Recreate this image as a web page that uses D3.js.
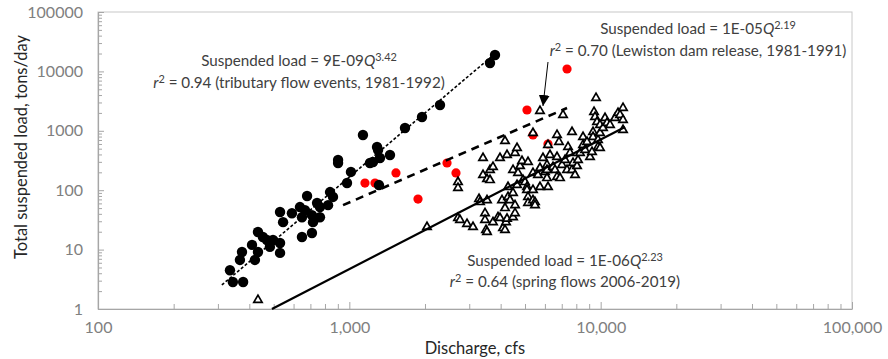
<!DOCTYPE html>
<html><head><meta charset="utf-8">
<script src="https://cdn.jsdelivr.net/npm/d3@7"></script>
<style>
body{margin:0;background:#fff}
svg{display:block}
text{font-family:Lato,"Open Sans",sans-serif}
</style>
</head><body>
<svg id="c" width="888" height="359"></svg>
<script>
// ---------- data ----------
const xTickValues = [100, 1000, 10000, 100000];
const xTickLabels = ["100", "1,000", "10,000", "100,000"];
const yTickValues = [1, 10, 100, 1000, 10000, 100000];
const yTickLabels = ["1", "10", "100", "1000", "10000", "100000"];

// tributary flow events 1981-1992 (black circles)
const tribQ = [335,344,378,367,374,421,410,433,433,453,470,483,497,530,530,530,545,591,636,648,666,648,679,710,710,717,744,764,764,823,838,861,902,902,979,1015,1133,1208,1242,1289,1301,1324,1312,1451,1665,1946,2295,3628,3798];
const tribL = [4.5,2.85,2.85,6.7,9.1,6.7,12,9.1,19.8,16.3,14.5,11.1,14.5,12.9,8.8,43,29,41,52,35,46,16.3,80,38,19,29,61,52,35,56,93,77,322,287,132,203,850,287,298,534,475,348,122,391,1115,1708,2719,13850,18890];

// Lewiston dam release 1981-1991 (red circles)
const lewQ = [1154,1265,1533,1876,2447,2657,5092,5379,6172,7348];
const lewL = [132,132,195,71,287,195,2239,849,600,10970];

// spring flows 2006-2019 (open triangles)
const springQ = [433,2037,2706,2706,2706,2756,2939,3105,3281,3311,3403,3403,3466,3466,3498,3530,3530,3530,3628,3628,3729,3729,3904,3976,3976,4050,4087,4163,4163,4163,4201,4240,4240,4279,4279,4358,4480,4480,4480,4563,4563,4563,4647,4647,4690,4777,4864,4909,5000,5092,5092,5139,5139,5139,5379,5379,5379,5379,5479,5479,5630,5735,5735,5735,5895,6004,6115,6115,6115,6172,6172,6286,6462,6581,6704,6704,6704,6828,6890,7018,7083,7213,7348,7416,7551,7691,7691,7762,7906,8053,8126,8277,8507,8507,8665,8826,9071,9239,9324,9324,9410,9497,9583,9670,9759,9759,9940,9940,9940,10216,10406,10598,10894,11404,11722,11940,12272,12272,12272];
const springL = [1.42,24,137,109,34,31.5,27,24,71,63,348,180,41,31.5,21.4,68,19.8,154,219,148,246,29,35,348,34,68,23,673,50,21.4,29,391,33,113,77,68,219,90,35,423,56,41,513,122,195,255,310,148,137,113,101,298,77,61,101,68,195,918,63,56,180,2154,236,113,348,203,266,219,160,577,113,391,246,219,850,362,167,648,160,266,1845,322,219,534,423,954,219,287,180,255,322,423,786,577,475,648,362,440,954,786,2073,1708,3566,1406,700,534,1252,918,513,1115,1642,1353,1252,1642,1994,1845,2420,1520,1031];

// fitted lines (end points)
const tribFitQ = [311, 3868];   const tribFitL = [2.54, 21210];
const lewFitQ = [944, 7348];    const lewFitL = [56, 2420];
const springFitQ = [492, 12498]; const springFitL = [1, 1159];

// arrow pointing at the Lewiston fit
const arrowQ = [6172, 5895];    const arrowL = [14390, 2615];

// ---------- layout ----------
const svg = d3.select("#c");
const padL = 98, padR = 852, padT = 12, padB = 309;
const x = d3.scaleLog().domain([100, 100000]).range([padL, padR]);
const y = d3.scaleLog().domain([1, 100000]).range([padB, padT]);

const zip = (a, b) => a.map((v, i) => [v, b[i]]);

// plot frame
svg.append("rect").attr("x", padL).attr("y", padT).attr("width", padR - padL).attr("height", padB - padT)
  .attr("fill", "none").attr("stroke", "#c8c8c8").attr("stroke-width", 1);

// minor ticks lists
const minorX = [], minorY = [];
for (let d = 100; d < 100000; d *= 10) for (let k = 1; k < 10; k++) minorX.push(d * k);
minorX.push(100000);
for (let d = 1; d < 100000; d *= 10) for (let k = 1; k < 10; k++) minorY.push(d * k);
minorY.push(100000);

const fmtX = v => { const i = xTickValues.indexOf(v); return i >= 0 ? xTickLabels[i] : ""; };
const fmtY = v => { const i = yTickValues.indexOf(v); return i >= 0 ? yTickLabels[i] : ""; };

const gx = svg.append("g").attr("transform", `translate(0,${padB})`)
  .call(d3.axisBottom(x).tickValues(minorX).tickFormat(fmtX).tickSizeInner(-5).tickSizeOuter(0).tickPadding(13));
const gy = svg.append("g").attr("transform", `translate(${padL},0)`)
  .call(d3.axisLeft(y).tickValues(minorY).tickFormat(fmtY).tickSizeInner(-4).tickSizeOuter(0).tickPadding(15));
[gx, gy].forEach(g => {
  g.select(".domain").attr("stroke", "#a6a6a6").attr("stroke-width", 1.2);
  g.selectAll(".tick line").attr("stroke", "#a6a6a6");
  g.selectAll(".tick text").attr("fill", "#808080").attr("font-size", 16).style("font-family", "Lato");
});
gy.selectAll(".tick").filter(d => yTickValues.includes(d)).select("line").attr("x2", 6);
gx.selectAll(".tick").filter(d => xTickValues.includes(d)).select("line").attr("y2", -7);

// axis titles
svg.append("text").attr("x", (padL + padR) / 2).attr("y", 354).attr("text-anchor", "middle")
  .attr("fill", "#262626").attr("font-size", 16.5).text("Discharge, cfs");
svg.append("text").attr("transform", "translate(27,147) rotate(-90)").attr("text-anchor", "middle")
  .attr("fill", "#262626").attr("font-size", 16.5).text("Total suspended load, tons/day");

// ---------- marks ----------
const plot = svg.append("g");

plot.selectAll("circle.lew").data(zip(lewQ, lewL)).enter().append("circle")
  .attr("cx", d => x(d[0])).attr("cy", d => y(d[1])).attr("r", 4.6).attr("fill", "#ff0000");

plot.selectAll("circle.trib").data(zip(tribQ, tribL)).enter().append("circle")
  .attr("cx", d => x(d[0])).attr("cy", d => y(d[1])).attr("r", 5.2).attr("fill", "#000");

const tri = d3.symbol(d3.symbolTriangle).size(30);
plot.selectAll("path.spr").data(zip(springQ, springL)).enter().append("path")
  .attr("d", tri).attr("transform", d => `translate(${x(d[0])},${y(d[1])})`)
  .attr("fill", "#fff").attr("stroke", "#000").attr("stroke-width", 1.7);

const line = d3.line().x(d => x(d[0])).y(d => y(d[1]));
plot.append("path").datum(zip(springFitQ, springFitL)).attr("d", line)
  .attr("stroke", "#000").attr("stroke-width", 2.2).attr("fill", "none");
plot.append("path").datum(zip(lewFitQ, lewFitL)).attr("d", line)
  .attr("stroke", "#000").attr("stroke-width", 2.6).attr("fill", "none").attr("stroke-dasharray", "8,6");
plot.append("path").datum(zip(tribFitQ, tribFitL)).attr("d", line)
  .attr("stroke", "#000").attr("stroke-width", 1.6).attr("fill", "none").attr("stroke-dasharray", "3,2");

// arrow
svg.append("defs").append("marker").attr("id", "ah").attr("viewBox", "0 0 10 10")
  .attr("refX", 10).attr("refY", 5).attr("markerWidth", 11).attr("markerHeight", 11)
  .attr("markerUnits", "userSpaceOnUse").attr("orient", "auto")
  .append("path").attr("d", "M0,0 L10,5 L0,10 Z").attr("fill", "#000");
svg.append("path").datum(zip(arrowQ, arrowL)).attr("d", line)
  .attr("stroke", "#000").attr("stroke-width", 1).attr("fill", "none").attr("marker-end", "url(#ah)");

// ---------- annotations ----------
function annot(cx, y1, y2, coef, expo, r2, desc) {
  const g = svg.append("g").attr("fill", "#404040");
  const t1 = g.append("text").attr("x", cx).attr("y", y1).attr("text-anchor", "middle").attr("font-size", 15);
  t1.append("tspan").text("Suspended load = " + coef);
  t1.append("tspan").attr("font-style", "italic").text("Q");
  t1.append("tspan").attr("font-size", "0.72em").attr("dy", "-0.45em").text(expo);
  const t2 = g.append("text").attr("x", cx).attr("y", y2).attr("text-anchor", "middle").attr("font-size", 15);
  t2.append("tspan").attr("font-style", "italic").text("r");
  t2.append("tspan").attr("font-size", "0.72em").attr("dy", "-0.5em").text("2");
  t2.append("tspan").attr("dy", "0.36em").text(" = " + r2 + " (" + desc + ")");
  return [t1, t2];
}
const a1 = annot(299, 66, 88, "9E-09", "3.42", "0.94", "tributary flow events, 1981-1992");
const a2 = annot(698, 34, 56, "1E-05", "2.19", "0.70", "Lewiston dam release, 1981-1991");
const a3 = annot(565, 266, 287, "1E-06", "2.23", "0.64", "spring flows 2006-2019");

// fit annotation font so the Lewiston second line spans ~297px as in the picture
const w = a2[1].node().getComputedTextLength();
const fs = 15 * 297 / w;
[a1, a2, a3].forEach(p => p.forEach(t => t.attr("font-size", fs)));
</script>
</body></html>
